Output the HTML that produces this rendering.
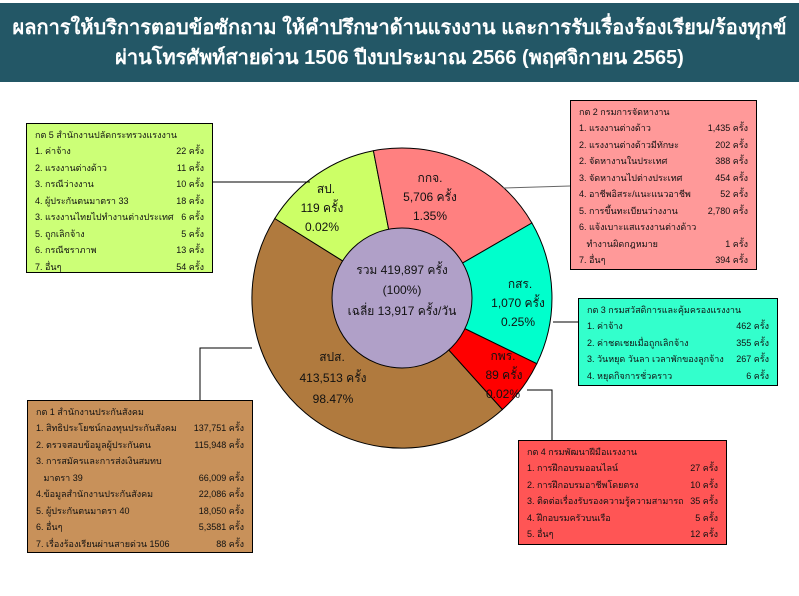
<!DOCTYPE html>
<html><head><meta charset="utf-8"><style>
body{margin:0;width:799px;height:596px;background:#fff;position:relative;overflow:hidden;font-family:"Liberation Sans","Noto Sans CJK SC","WenQuanYi Zen Hei",sans-serif}
.hd{position:absolute;left:0;top:3px;width:799px;height:79px;background:#235766;color:#fff;font-weight:bold;font-size:20px;text-align:center;line-height:30px;padding-top:10px;box-sizing:border-box;white-space:nowrap}
.box{position:absolute;border:1.5px solid #000;box-sizing:border-box;font-size:9px;color:#111;padding:4px 8px;white-space:nowrap}
.box .r{display:flex;justify-content:space-between;height:16.5px;line-height:16.5px}
.box .t{height:15px;line-height:14px}
svg{position:absolute;left:0;top:0}
</style></head><body>
<div class="hd">ผลการให้บริการตอบข้อซักถาม ให้คำปรึกษาด้านแรงงาน และการรับเรื่องร้องเรียน/ร้องทุกข์<br>ผ่านโทรศัพท์สายด่วน 1506 ปีงบประมาณ 2566 (พฤศจิกายน 2565)</div>
<svg width="799" height="596">
<g stroke="#000" stroke-width="1">
<path d="M402 298 L502.4 409.5 A150 150 0 0 1 274.8 218.5 Z" fill="#b07a3e"/>
<path d="M402 298 L274.8 218.5 A150 150 0 0 1 373.4 150.7 Z" fill="#ccff66"/>
<path d="M402 298 L373.4 150.7 A150 150 0 0 1 531.9 223 Z" fill="#ff8080"/>
<path d="M402 298 L531.9 223 A150 150 0 0 1 536.8 363.7 Z" fill="#00ffcc"/>
<path d="M402 298 L536.8 363.7 A150 150 0 0 1 502.4 409.5 Z" fill="#ff0000"/>
<circle cx="402" cy="298" r="70" fill="#b0a0c8"/>
<polyline points="213,182 310,182" fill="none"/>
<polyline points="503,188 570,186" fill="none" stroke="#666"/>
<polyline points="553,322 578,322" fill="none"/>
<polyline points="527,390 552,390 552,440" fill="none"/>
<polyline points="252,348 200,348 200,400" fill="none"/>
</g>
<g font-family="Liberation Sans,Noto Sans CJK SC,sans-serif" font-size="12" text-anchor="middle" fill="#111">
<text x="326" y="193">สป.</text><text x="322" y="212">119  ครั้ง</text><text x="322" y="231">0.02%</text>
<text x="430" y="182">กกจ.</text><text x="430" y="201">5,706 ครั้ง</text><text x="430" y="220">1.35%</text>
<text x="520" y="288">กสร.</text><text x="518" y="307">1,070 ครั้ง</text><text x="518" y="326">0.25%</text>
<text x="503" y="360">กพร.</text><text x="504" y="379">89 ครั้ง</text><text x="503" y="398">0.02%</text>
<text x="332" y="361">สปส.</text><text x="333" y="382">413,513 ครั้ง</text><text x="333" y="403">98.47%</text>
<text x="402" y="274">รวม 419,897 ครั้ง</text><text x="402" y="294">(100%)</text><text x="402" y="315">เฉลี่ย 13,917 ครั้ง/วัน</text>
</g>
</svg>
<div class="box" style="left:26px;top:123px;width:187px;height:150px;background:#ccff77">
<div class="t">กต 5 สำนักงานปลัดกระทรวงแรงงาน</div>
<div class="r"><span>1. ค่าจ้าง</span><span>22 ครั้ง</span></div>
<div class="r"><span>2. แรงงานต่างด้าว</span><span>11 ครั้ง</span></div>
<div class="r"><span>3. กรณีว่างงาน</span><span>10 ครั้ง</span></div>
<div class="r"><span>4. ผู้ประกันตนมาตรา 33</span><span>18 ครั้ง</span></div>
<div class="r"><span>3. แรงงานไทยไปทำงานต่างประเทศ</span><span>6 ครั้ง</span></div>
<div class="r"><span>5. ถูกเลิกจ้าง</span><span>5 ครั้ง</span></div>
<div class="r"><span>6. กรณีชราภาพ</span><span>13 ครั้ง</span></div>
<div class="r"><span>7. อื่นๆ</span><span>54 ครั้ง</span></div>
</div>
<div class="box" style="left:570px;top:100px;width:187px;height:170px;background:#ff9999">
<div class="t">กต 2 กรมการจัดหางาน</div>
<div class="r"><span>1. แรงงานต่างด้าว</span><span>1,435 ครั้ง</span></div>
<div class="r"><span>2. แรงงานต่างด้าวมีทักษะ</span><span>202 ครั้ง</span></div>
<div class="r"><span>2. จัดหางานในประเทศ</span><span>388 ครั้ง</span></div>
<div class="r"><span>3. จัดหางานไปต่างประเทศ</span><span>454 ครั้ง</span></div>
<div class="r"><span>4. อาชีพอิสระ/แนะแนวอาชีพ</span><span>52 ครั้ง</span></div>
<div class="r"><span>5. การขึ้นทะเบียนว่างงาน</span><span>2,780 ครั้ง</span></div>
<div class="r"><span>6. แจ้งเบาะแสแรงงานต่างด้าว</span><span></span></div>
<div class="r"><span>&nbsp;&nbsp;&nbsp;ทำงานผิดกฎหมาย</span><span>1 ครั้ง</span></div>
<div class="r"><span>7. อื่นๆ</span><span>394 ครั้ง</span></div>
</div>
<div class="box" style="left:578px;top:298px;width:200px;height:88px;background:#33ffcc">
<div class="t">กต 3 กรมสวัสดิการและคุ้มครองแรงงาน</div>
<div class="r"><span>1. ค่าจ้าง</span><span>462 ครั้ง</span></div>
<div class="r"><span>2. ค่าชดเชยเมื่อถูกเลิกจ้าง</span><span>355 ครั้ง</span></div>
<div class="r"><span>3. วันหยุด วันลา เวลาพักของลูกจ้าง</span><span>267 ครั้ง</span></div>
<div class="r"><span>4. หยุดกิจการชั่วคราว</span><span>6 ครั้ง</span></div>
</div>
<div class="box" style="left:518px;top:440px;width:209px;height:105px;background:#ff5555">
<div class="t">กต 4 กรมพัฒนาฝีมือแรงงาน</div>
<div class="r"><span>1. การฝึกอบรมออนไลน์</span><span>27 ครั้ง</span></div>
<div class="r"><span>2. การฝึกอบรมอาชีพโดยตรง</span><span>10 ครั้ง</span></div>
<div class="r"><span>3. ติดต่อเรื่องรับรองความรู้ความสามารถ</span><span>35 ครั้ง</span></div>
<div class="r"><span>4. ฝึกอบรมครัวบนเรือ</span><span>5 ครั้ง</span></div>
<div class="r"><span>5. อื่นๆ</span><span>12 ครั้ง</span></div>
</div>
<div class="box" style="left:27px;top:400px;width:226px;height:153px;background:#c8915a">
<div class="t">กต 1 สำนักงานประกันสังคม</div>
<div class="r"><span>1. สิทธิประโยชน์กองทุนประกันสังคม</span><span>137,751 ครั้ง</span></div>
<div class="r"><span>2. ตรวจสอบข้อมูลผู้ประกันตน</span><span>115,948 ครั้ง</span></div>
<div class="r"><span>3. การสมัครและการส่งเงินสมทบ</span><span></span></div>
<div class="r"><span>&nbsp;&nbsp;&nbsp;มาตรา 39</span><span>66,009 ครั้ง</span></div>
<div class="r"><span>4.ข้อมูลสำนักงานประกันสังคม</span><span>22,086 ครั้ง</span></div>
<div class="r"><span>5. ผู้ประกันตนมาตรา 40</span><span>18,050 ครั้ง</span></div>
<div class="r"><span>6. อื่นๆ</span><span>5,3581 ครั้ง</span></div>
<div class="r"><span>7. เรื่องร้องเรียนผ่านสายด่วน 1506</span><span>88 ครั้ง</span></div>
</div>
</body></html>
